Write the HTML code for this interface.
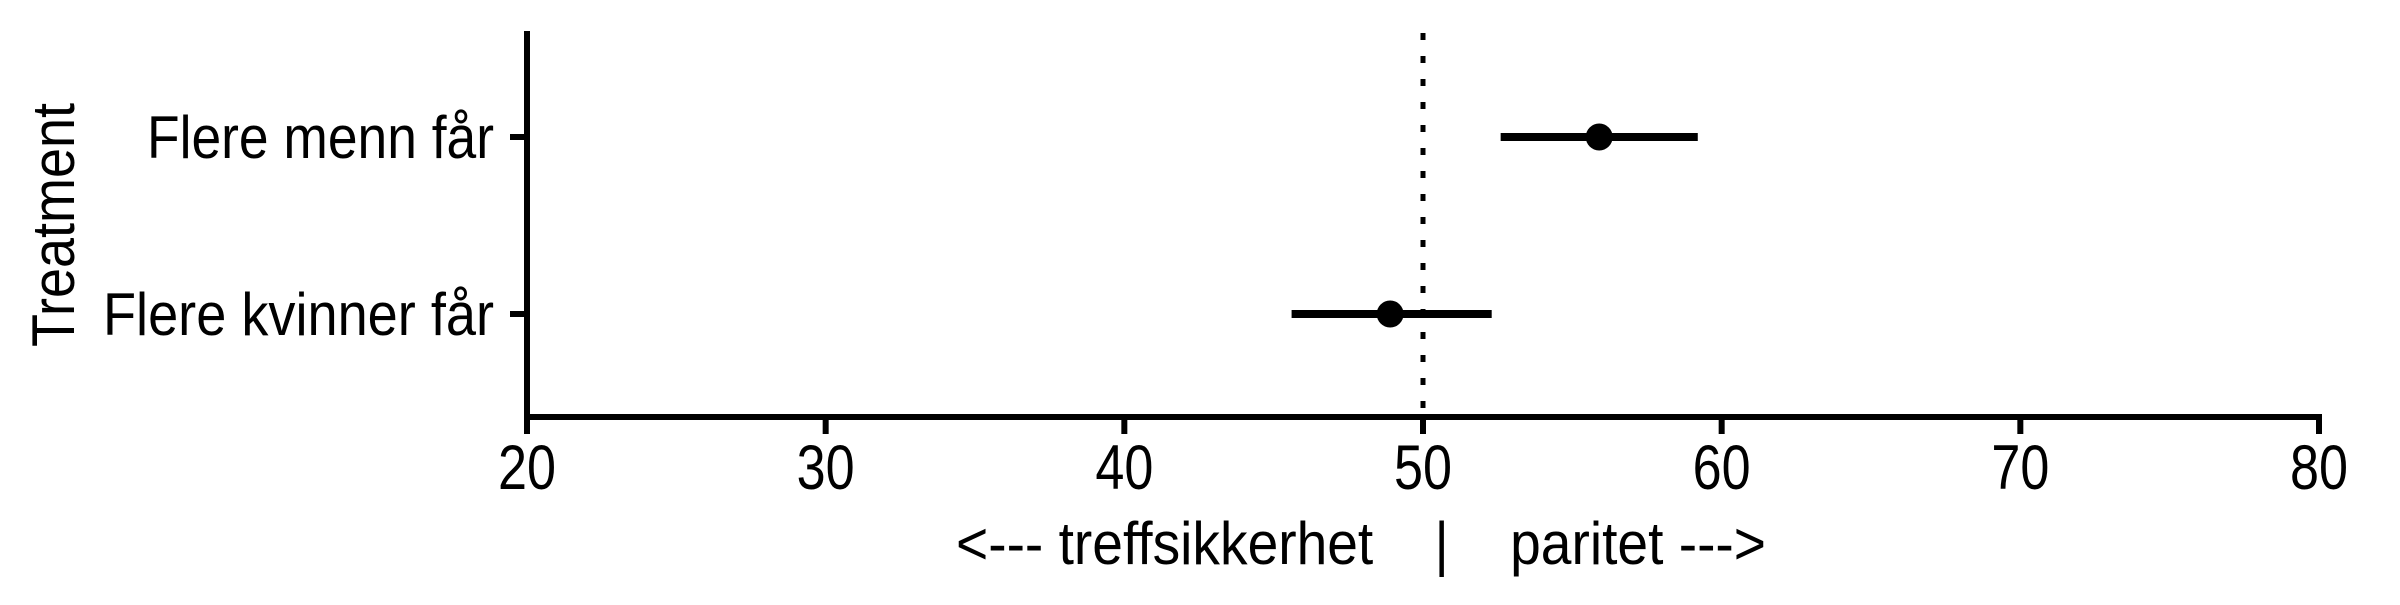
<!DOCTYPE html>
<html><head><meta charset="utf-8"><style>
html,body{margin:0;padding:0;background:#fff}
svg text{font-family:"Liberation Sans",Arial,sans-serif;fill:#000;white-space:pre}
</style></head><body>
<svg id="chart" width="2400" height="600" viewBox="0 0 2400 600" xmlns="http://www.w3.org/2000/svg">
<g id="g"></g>
</svg>
<script>
const categories = ["Flere menn får", "Flere kvinner får"];
const estimates = [55.9, 48.9];
const lowers = [52.6, 45.6];
const uppers = [59.2, 52.3];
const xTicks = [20, 30, 40, 50, 60, 70, 80];
const refValue = 50;
const labelWidths = [347, 391];

const NS = "http://www.w3.org/2000/svg";
const g = document.getElementById("g");
const X0 = 527, X1 = 2319, XMIN = 20, XMAX = 80;
const rowY = [137, 314];
function xs(v){ return X0 + (v - XMIN) / (XMAX - XMIN) * (X1 - X0); }
function mk(tag, attrs, parent){
  const e = document.createElementNS(NS, tag);
  for (const k in attrs) e.setAttribute(k, attrs[k]);
  (parent || g).appendChild(e);
  return e;
}

const ref = mk("line", {x1: xs(refValue), x2: xs(refValue), y1: 33, y2: 417, stroke: "#000", "stroke-width": 5, "stroke-dasharray": "7 16"});



const ya = mk("line", {x1: X0, x2: X0, y1: 31, y2: 420, stroke: "#000", "stroke-width": 6});


const xa = mk("line", {x1: X0 - 3, x2: X1 + 3, y1: 417, y2: 417, stroke: "#000", "stroke-width": 6});



xTicks.forEach(t => {
  const tk = mk("line", {x1: xs(t), x2: xs(t), y1: 417, y2: 434, stroke: "#000", "stroke-width": 6});
  
  
  const tl = mk("text", {x: xs(t), y: 489, "text-anchor": "middle", "font-size": 63, textLength: 58, lengthAdjust: "spacingAndGlyphs"});
  tl.textContent = t;
  
  
});

categories.forEach((c, i) => {
  const y = rowY[i];
  const tk = mk("line", {x1: 510, x2: X0, y1: y, y2: y, stroke: "#000", "stroke-width": 6});
  
  
  const tl = mk("text", {x: 494, y: y + 21, "text-anchor": "end", "font-size": 60, textLength: labelWidths[i], lengthAdjust: "spacingAndGlyphs"});
  tl.textContent = c;
  
  
  const eb = mk("line", {x1: xs(lowers[i]), x2: xs(uppers[i]), y1: y, y2: y, stroke: "#000", "stroke-width": 8});
  
  
  const pt = mk("circle", {cx: xs(estimates[i]), cy: y, r: 13.5, fill: "#000"});
  
  
});

const xt = mk("text", {x: 956, y: 564, "font-size": 60, textLength: 810, lengthAdjust: "spacingAndGlyphs"});
xt.textContent = "<--- treffsikkerhet    |    paritet --->";



const yt = mk("text", {x: 0, y: 0, "text-anchor": "middle", "font-size": 60, transform: "translate(74,225) rotate(-90)", textLength: 244, lengthAdjust: "spacingAndGlyphs"});
yt.textContent = "Treatment";


</script>
</body></html>
